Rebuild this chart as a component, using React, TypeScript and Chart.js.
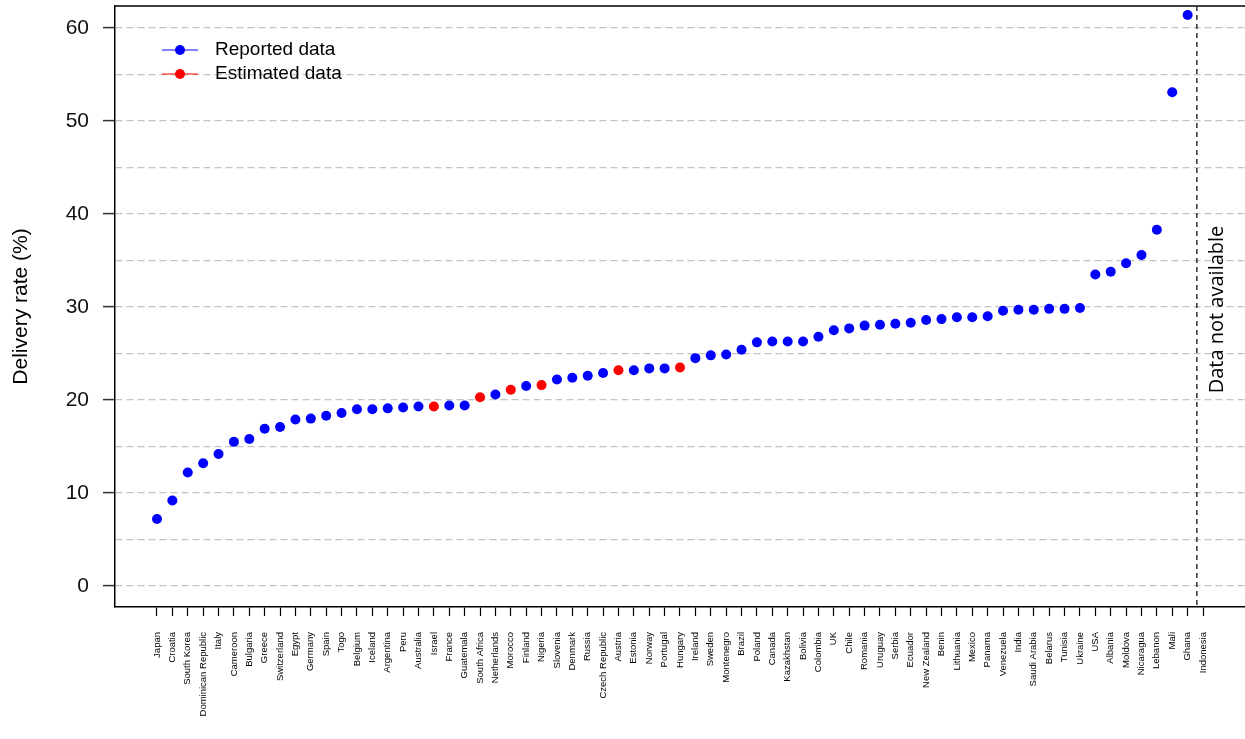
import React, { useEffect, useRef } from 'react';
import { Chart, registerables } from 'chart.js';

Chart.register(...registerables);

const countries: string[] = [
  'Japan', 'Croatia', 'South Korea', 'Dominican Republic', 'Italy', 'Cameroon', 'Bulgaria', 'Greece',
  'Switzerland', 'Egypt', 'Germany', 'Spain', 'Togo', 'Belgium', 'Iceland', 'Argentina', 'Peru',
  'Australia', 'Israel', 'France', 'Guatemala', 'South Africa', 'Netherlands', 'Morocco', 'Finland',
  'Nigeria', 'Slovenia', 'Denmark', 'Russia', 'Czech Republic', 'Austria', 'Estonia', 'Norway',
  'Portugal', 'Hungary', 'Ireland', 'Sweden', 'Montenegro', 'Brazil', 'Poland', 'Canada',
  'Kazakhstan', 'Bolivia', 'Colombia', 'UK', 'Chile', 'Romania', 'Uruguay', 'Serbia', 'Ecuador',
  'New Zealand', 'Benin', 'Lithuania', 'Mexico', 'Panama', 'Venezuela', 'India', 'Saudi Arabia',
  'Belarus', 'Tunisia', 'Ukraine', 'USA', 'Albania', 'Moldova', 'Nicaragua', 'Lebanon', 'Mali',
  'Ghana', 'Indonesia',
];

const deliveryRate: (number | null)[] = [
  7.2, 9.2, 12.2, 13.2, 14.2, 15.5, 15.8, 16.9,
  17.1, 17.9, 18.0, 18.3, 18.6, 19.0, 19.0, 19.1, 19.2,
  19.3, 19.3, 19.4, 19.4, 20.3, 20.6, 21.1, 21.5,
  21.6, 22.2, 22.4, 22.6, 22.9, 23.2, 23.2, 23.4,
  23.4, 23.5, 24.5, 24.8, 24.9, 25.4, 26.2, 26.3,
  26.3, 26.3, 26.8, 27.5, 27.7, 28.0, 28.1, 28.2, 28.3,
  28.6, 28.7, 28.9, 28.9, 29.0, 29.6, 29.7, 29.7,
  29.8, 29.8, 29.9, 33.5, 33.8, 34.7, 35.6, 38.3, 53.1,
  61.4, null,
];

const estimatedCountries: string[] = ['Israel', 'South Africa', 'Morocco', 'Nigeria', 'Austria', 'Hungary'];

const seriesLabels: string[] = ['Reported data', 'Estimated data'];
const seriesColors: string[] = ['#0000ff', '#ff0000'];

const yGridValues: number[] = [0, 5, 10, 15, 20, 25, 30, 35, 40, 45, 50, 55, 60];
const yLabelStep = 10;
const yAxisTitle = 'Delivery rate (%)';
const noDataLabel = 'Data not available';
const dividerPosition = 67.6;

const FONT = '"Liberation Sans", Arial, Helvetica, sans-serif';

const overlayPlugin = {
  id: 'overlay',
  afterDraw(chart: any) {
    const { ctx, chartArea, scales } = chart;
    ctx.save();
    // top frame line
    ctx.strokeStyle = '#000';
    ctx.lineWidth = 1.5;
    ctx.beginPath();
    ctx.moveTo(chartArea.left, chartArea.top);
    ctx.lineTo(chart.width, chartArea.top);
    ctx.stroke();

    // divider
    const xd = scales.x.getPixelForValue(dividerPosition);
    ctx.setLineDash([5, 4]);
    ctx.strokeStyle = '#333';
    ctx.lineWidth = 1.5;
    ctx.beginPath();
    ctx.moveTo(xd, chartArea.top);
    ctx.lineTo(xd, chartArea.bottom);
    ctx.stroke();
    ctx.setLineDash([]);

    // "Data not available"
    ctx.save();
    ctx.translate(xd + 20, (chartArea.top + chartArea.bottom) / 2 + 3);
    ctx.rotate(-Math.PI / 2);
    ctx.fillStyle = '#000';
    ctx.font = '20px "Open Sans", sans-serif';
    ctx.textAlign = 'center';
    ctx.textBaseline = 'middle';
    ctx.fillText(noDataLabel, 0, 0);
    ctx.restore();

    // legend
    chart.data.datasets.forEach((ds: any, i: number) => {
      const y = chartArea.top + 44 + i * 24;
      const x0 = chartArea.left + 47;
      ctx.strokeStyle = ds.backgroundColor;
      ctx.lineWidth = 1.2;
      ctx.beginPath();
      ctx.moveTo(x0, y);
      ctx.lineTo(x0 + 36, y);
      ctx.stroke();
      ctx.fillStyle = ds.backgroundColor;
      ctx.beginPath();
      ctx.arc(x0 + 18, y, 5, 0, Math.PI * 2);
      ctx.fill();
      ctx.fillStyle = '#000';
      ctx.font = '19px ' + FONT;
      ctx.textAlign = 'left';
      ctx.textBaseline = 'middle';
      ctx.fillText(ds.label, x0 + 53, y);
    });
    ctx.restore();
  },
};

export default function App() {
  const canvasRef = useRef<HTMLCanvasElement | null>(null);

  useEffect(() => {
    const canvas = canvasRef.current;
    if (!canvas) return;

    const reported: { x: number; y: number }[] = [];
    const estimated: { x: number; y: number }[] = [];
    countries.forEach((c, i) => {
      const v = deliveryRate[i];
      if (v === null) return;
      if (estimatedCountries.includes(c)) estimated.push({ x: i, y: v });
      else reported.push({ x: i, y: v });
    });

    const chart = new Chart(canvas, {
      type: 'scatter',
      data: {
        datasets: [
          {
            label: seriesLabels[0],
            data: reported,
            backgroundColor: seriesColors[0],
            borderColor: seriesColors[0],
            pointRadius: 5,
            borderWidth: 0,
          },
          {
            label: seriesLabels[1],
            data: estimated,
            backgroundColor: seriesColors[1],
            borderColor: seriesColors[1],
            pointRadius: 5,
            borderWidth: 0,
          },
        ],
      },
      options: {
        responsive: false,
        animation: false,
        events: [],
        layout: { padding: { top: 6, right: 0, left: 0, bottom: 0 } },
        plugins: {
          legend: { display: false },
          tooltip: { enabled: false },
          title: { display: false },
        },
        scales: {
          x: {
            type: 'linear',
            min: -2.73,
            max: 70.73,
            afterBuildTicks: (scale: any) => {
              scale.ticks = countries.map((_, i) => ({ value: i }));
            },
            afterFit: (scale: any) => {
              scale.height = 132;
              scale.paddingLeft = 0;
              scale.paddingRight = 0;
            },
            ticks: {
              autoSkip: false,
              minRotation: 90,
              maxRotation: 90,
              padding: 16,
              color: '#000',
              font: { family: FONT, size: 9.5 },
              callback: (value: any) => countries[value as number] ?? '',
            },
            grid: {
              drawOnChartArea: false,
              drawTicks: true,
              tickLength: 9,
              tickColor: '#000',
              tickWidth: 1.2,
            },
            border: { display: true, color: '#000', width: 1.5 },
          },
          y: {
            type: 'linear',
            min: -2.26,
            max: 62.37,
            afterBuildTicks: (scale: any) => {
              scale.ticks = yGridValues.map((v) => ({ value: v }));
            },
            afterFit: (scale: any) => {
              scale.width = 115;
              scale.paddingTop = 0;
              scale.paddingBottom = 0;
            },
            ticks: {
              padding: 14,
              color: '#111',
              font: { family: FONT, size: 21 },
              callback: (value: any) => ((value as number) % yLabelStep === 0 ? String(value) : ''),
            },
            grid: {
              drawOnChartArea: true,
              color: '#c4c4c4',
              lineWidth: 1.2,
              tickLength: 12,
              tickWidth: 1.5,
              tickColor: (c: any) =>
                c.tick && c.tick.value % yLabelStep === 0 ? '#333' : 'rgba(0,0,0,0)',
              tickBorderDash: [],
            },
            border: { display: true, color: '#000', width: 1.5, dash: [7, 4] },
            title: {
              display: true,
              text: yAxisTitle,
              color: '#000',
              font: { family: FONT, size: 21 },
              padding: { top: 9, bottom: 0 },
            },
          },
        },
      },
      plugins: [overlayPlugin],
    } as any);

    return () => chart.destroy();
  }, []);

  return (
    <div
      style={{
        position: 'fixed',
        left: 0,
        top: 0,
        width: 1245,
        height: 739,
        overflow: 'hidden',
        background: '#fff',
      }}
    >
      <canvas ref={canvasRef} width={1250} height={739} style={{ display: 'block' }} />
    </div>
  );
}
